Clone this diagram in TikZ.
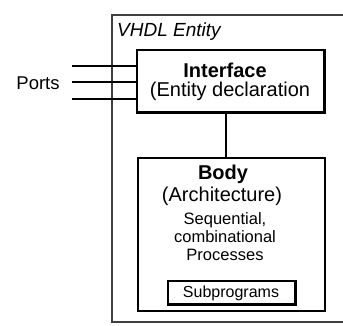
\documentclass[tikz,border=0pt]{standalone}
\usepackage{fontspec}
\setmainfont{Liberation Sans}
\usetikzlibrary{positioning}

\begin{document}
\begin{tikzpicture}[x=1pt,y=-1pt,
    box/.style={draw, line width=1.1pt, inner sep=0pt},
    shadowedge/.style={line width=2.4pt},
    wire/.style={line width=1.1pt},
    bigtxt/.style={font=\fontsize{20}{22}\selectfont, inner sep=0pt},
    smalltxt/.style={font=\fontsize{16.5}{18}\selectfont, inner sep=0pt, align=center}]
    \useasboundingbox (0,0) rectangle (343,325);
    \clip (0,0) rectangle (343,325);

    % entity frame, open to the right
    \draw[line width=1.6pt, draw=black!75] (112,15) rectangle (352,322);
    \node[font=\itshape\fontsize{19}{21}\selectfont, inner sep=0pt, anchor=west] (ent) at (117,32) {VHDL Entity};

    % interface
    \node[box, minimum width=187pt, minimum height=62pt] (iface) at (230.5,81) {};
    \draw[shadowedge] (iface.north east) -- (iface.south east) -- (iface.south west);
    \node[bigtxt, font=\bfseries\fontsize{20}{22}\selectfont] (ititle) at (225,70) {Interface};
    \node[bigtxt] (idecl) at (230,91) {(Entity declaration};

    % ports
    \node[bigtxt, font=\fontsize{18.5}{20}\selectfont] (ports) at (38,83) {Ports};
    \coordinate (p1) at (72,66);
    \coordinate (p2) at (72,82);
    \coordinate (p3) at (72,99);
    \foreach \p in {p1,p2,p3}
        \draw[wire] (\p) -- (\p -| iface.west);

    % body
    \node[box, minimum width=187pt, minimum height=153pt] (body) at (231.5,234.5) {};
    \draw[wire] ([xshift=-4.5pt]iface.south) -- ([xshift=-4.5pt]iface.south |- body.north);
    \node[bigtxt, font=\bfseries\fontsize{20}{22}\selectfont] (btitle) at (223,174) {Body};
    \node[bigtxt] (barch) at (222,196) {(Architecture)};
    \node[smalltxt] (bproc) at (225,237) {Sequential,\\combinational\\Processes};

    % subprograms
    \node[box, minimum width=127pt, minimum height=23pt] (subp) at (231.5,292.5) {};
    \draw[shadowedge] (subp.north east) -- (subp.south east) -- (subp.south west);
    \node[smalltxt, font=\fontsize{16}{18}\selectfont] (stxt) at (231,293) {Subprograms};
\end{tikzpicture}
\end{document}
